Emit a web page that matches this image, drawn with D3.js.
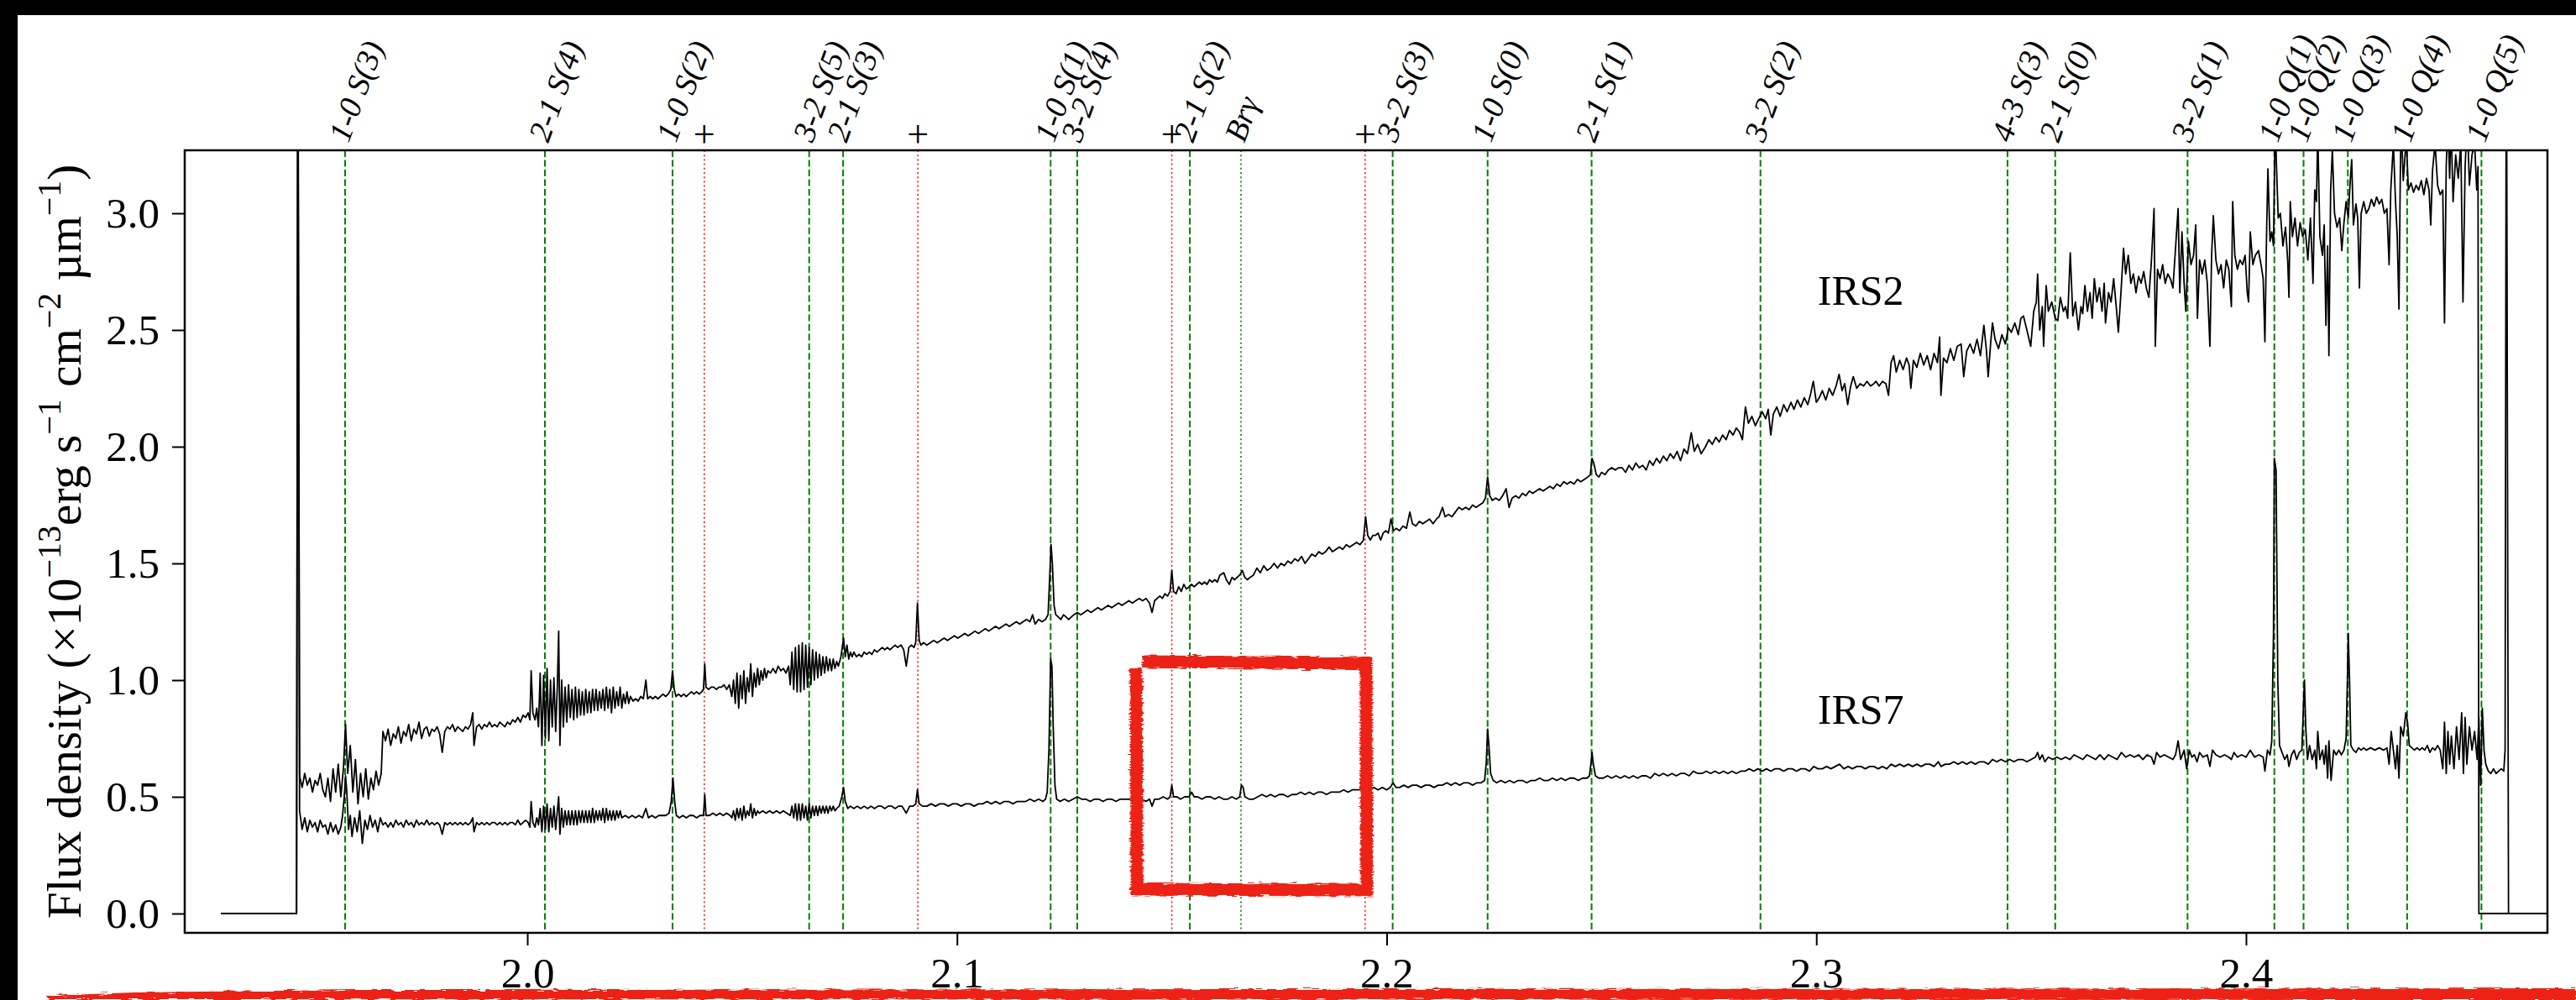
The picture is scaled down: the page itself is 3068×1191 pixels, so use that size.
<!DOCTYPE html>
<html>
<head>
<meta charset="utf-8">
<script src="https://cdn.jsdelivr.net/npm/d3@7"></script>
<style>
  html, body { margin: 0; padding: 0; background: #fff; }
  svg { display: block; }
  text { font-family: "Liberation Serif", "Times New Roman", serif; fill: #000; }
</style>
</head>
<body>
<svg id="chart" width="3068" height="1191"></svg>
<script>
// axis limits and ticks
var xDomain = [1.92027, 2.47016];
var yDomain = [-0.0827, 3.2698];
var xTicks = [2.0, 2.1, 2.2, 2.3, 2.4];
var yTicks = [0, 0.5, 1.0, 1.5, 2.0, 2.5, 3.0];

// H2 lines (green dashed)
var h2Waves = [1.9576, 2.0041, 2.0338, 2.0656, 2.0735, 2.1218, 2.1280, 2.1542, 2.2014, 2.2235,
  2.2477, 2.2870, 2.3445, 2.3556, 2.3864, 2.4066, 2.4134, 2.4237, 2.4375, 2.4548];
var h2Labels = ['1-0 S(3)', '2-1 S(4)', '1-0 S(2)', '3-2 S(5)', '2-1 S(3)', '1-0 S(1)', '3-2 S(4)', '2-1 S(2)',
  '3-2 S(3)', '1-0 S(0)', '2-1 S(1)', '3-2 S(2)', '4-3 S(3)', '2-1 S(0)', '3-2 S(1)', '1-0 Q(1)',
  '1-0 Q(2)', '1-0 Q(3)', '1-0 Q(4)', '1-0 Q(5)'];
// recombination line (green dotted)
var recWaves = [2.1661];
var recLabels = ['Brγ'];
// other features (red dotted, marked with +)
var plusWaves = [2.0412, 2.0909, 2.1500, 2.1950];

// object names
var seriesNames = ['IRS2', 'IRS7'];
var seriesLabelX = [2.3003, 2.3003];
var seriesLabelY = [2.608, 0.813];

// hand drawn highlight: [left wave, right wave, bottom flux, top flux]
var highlightBox = [2.1419, 2.1950, 0.104, 1.072];

// spectra [wavelength (um), flux]
var irs2 = [
  [1.9287,0],[1.9463,0],[1.9466,4.0],
  [1.9470,0.59],[1.9476,0.54],[1.9482,0.60],[1.9488,0.55],[1.9494,0.58],[1.9500,0.52],[1.9506,0.57],[1.9512,0.55],
  [1.9518,0.60],[1.9524,0.53],[1.9530,0.50],[1.9536,0.58],[1.9542,0.48],[1.9548,0.62],[1.9554,0.52],[1.9560,0.64],
  [1.9566,0.50],[1.9572,0.62],[1.9577,0.81],[1.9582,0.60],[1.9588,0.72],[1.9594,0.52],[1.9600,0.66],[1.9606,0.47],
  [1.9612,0.60],[1.9618,0.50],[1.9624,0.62],[1.9630,0.49],[1.9636,0.58],[1.9642,0.53],[1.9648,0.61],[1.9654,0.55],
  [1.9660,0.60],[1.9664,0.78],[1.9670,0.74],[1.9676,0.79],[1.9682,0.72],[1.9688,0.77],[1.9694,0.75],[1.9700,0.80],
  [1.9706,0.73],[1.9712,0.78],[1.9718,0.76],[1.9724,0.81],[1.9730,0.74],[1.9736,0.79],[1.9742,0.77],[1.9748,0.82],
  [1.9754,0.75],[1.9760,0.79],[1.9766,0.80],[1.9772,0.76],[1.9778,0.79],[1.9784,0.78],[1.9790,0.80],[1.9796,0.77],
  [1.9802,0.69],[1.9808,0.78],[1.9814,0.80],[1.9820,0.79],[1.9826,0.81],[1.9832,0.78],[1.9838,0.80],[1.9844,0.79],
  [1.9850,0.78],[1.9856,0.80],[1.9862,0.79],[1.9868,0.81],[1.9873,0.86],[1.9876,0.72],[1.9882,0.80],[1.9888,0.81],
  [1.9894,0.79],[1.9900,0.81],[1.9906,0.80],[1.9912,0.82],[1.9918,0.80],[1.9924,0.81],[1.9930,0.80],[1.9936,0.82],
  [1.9942,0.81],[1.9948,0.80],[1.9954,0.82],[1.9960,0.81],[1.9966,0.83],[1.9972,0.82],[1.9978,0.84],[1.9984,0.82],
  [1.9990,0.85],[1.9996,0.84],[2.0002,0.86],[2.0006,0.83],[2.0009,1.04],[2.0013,0.86],[2.0018,0.83],[2.0022,0.88],
  [2.0026,0.80],[2.0030,1.03],[2.0034,0.72],[2.0038,1.02],[2.0042,0.75],[2.0046,1.05],[2.0050,0.74],[2.0054,1.00],
  [2.0058,0.80],[2.0062,1.01],[2.0066,0.78],[2.0070,0.98],[2.0073,1.21],[2.0076,0.72],[2.0080,1.00],[2.0084,0.80],
  [2.0088,0.97],[2.0092,0.82],[2.0096,0.98],[2.0100,0.84],[2.0104,0.96],[2.0108,0.83],[2.0112,0.97],[2.0116,0.84],
  [2.0120,0.96],[2.0124,0.85],[2.0128,0.95],[2.0132,0.85],[2.0136,0.96],[2.0140,0.86],[2.0144,0.95],[2.0148,0.86],
  [2.0152,0.96],[2.0156,0.87],[2.0160,0.96],[2.0164,0.87],[2.0168,0.95],[2.0172,0.88],[2.0176,0.96],[2.0180,0.87],
  [2.0184,0.97],[2.0188,0.88],[2.0192,0.96],[2.0196,0.86],[2.0200,0.97],[2.0204,0.88],[2.0208,0.95],[2.0212,0.89],
  [2.0216,0.97],[2.0220,0.88],[2.0224,0.94],[2.0228,0.90],[2.0232,0.95],[2.0236,0.90],[2.0240,0.93],[2.0246,0.91],
  [2.0252,0.92],[2.0258,0.91],[2.0264,0.93],[2.0270,0.92],[2.0276,1.00],[2.0280,0.92],[2.0286,0.93],[2.0292,0.92],
  [2.0298,0.93],[2.0304,0.92],[2.0310,0.93],[2.0316,0.94],[2.0322,0.93],[2.0328,0.94],[2.0334,0.96],[2.0338,1.04],
  [2.0342,0.96],[2.0346,0.93],[2.0352,0.94],[2.0358,0.93],[2.0364,0.94],[2.0370,0.93],[2.0376,0.94],[2.0382,0.95],
  [2.0388,0.94],[2.0394,0.95],[2.0400,0.94],[2.0406,0.95],[2.0410,0.96],[2.0413,1.07],[2.0416,0.97],[2.0422,0.96],
  [2.0428,0.97],[2.0434,0.97],[2.0440,0.96],[2.0446,0.97],[2.0452,0.97],[2.0458,0.98],[2.0464,0.96],[2.0470,0.98],
  [2.0476,0.93],[2.0480,1.00],[2.0484,0.90],[2.0488,1.03],[2.0492,0.88],[2.0496,1.02],[2.0500,0.92],[2.0504,1.04],
  [2.0508,0.90],[2.0512,1.01],[2.0516,0.95],[2.0520,1.07],[2.0524,0.93],[2.0528,1.03],[2.0532,0.97],[2.0536,1.05],
  [2.0540,0.98],[2.0544,1.04],[2.0548,1.00],[2.0552,1.05],[2.0556,1.01],[2.0560,1.04],[2.0566,1.03],[2.0572,1.05],
  [2.0578,1.03],[2.0584,1.06],[2.0590,1.04],[2.0596,1.05],[2.0602,1.03],[2.0608,1.06],[2.0612,0.98],[2.0616,1.12],
  [2.0620,0.96],[2.0624,1.14],[2.0628,0.95],[2.0632,1.15],[2.0636,0.95],[2.0640,1.16],[2.0644,0.96],[2.0648,1.15],
  [2.0652,0.97],[2.0656,1.14],[2.0660,0.98],[2.0664,1.13],[2.0668,1.00],[2.0672,1.12],[2.0676,1.01],[2.0680,1.11],
  [2.0684,1.02],[2.0688,1.10],[2.0692,1.03],[2.0696,1.10],[2.0700,1.04],[2.0704,1.09],[2.0708,1.04],[2.0712,1.09],
  [2.0716,1.05],[2.0720,1.08],[2.0724,1.06],[2.0730,1.10],[2.0736,1.18],[2.0740,1.10],[2.0744,1.15],[2.0748,1.09],
  [2.0752,1.12],[2.0756,1.10],[2.0760,1.12],[2.0766,1.10],[2.0772,1.11],[2.0778,1.10],[2.0784,1.12],[2.0790,1.11],
  [2.0796,1.12],[2.0802,1.11],[2.0808,1.13],[2.0814,1.12],[2.0820,1.13],[2.0826,1.14],[2.0832,1.13],[2.0838,1.14],
  [2.0844,1.13],[2.0850,1.14],[2.0856,1.15],[2.0862,1.14],[2.0870,1.15],[2.0876,1.13],[2.0882,1.06],[2.0888,1.14],
  [2.0894,1.15],[2.0900,1.14],[2.0904,1.16],[2.0908,1.33],[2.0912,1.17],[2.0916,1.15],[2.0922,1.16],[2.0930,1.15],
  [2.0938,1.16],[2.0946,1.17],[2.0954,1.16],[2.0962,1.17],[2.0970,1.18],[2.0978,1.17],[2.0986,1.18],[2.0994,1.19],
  [2.1002,1.18],[2.1010,1.19],[2.1018,1.20],[2.1026,1.19],[2.1034,1.20],[2.1042,1.21],[2.1050,1.20],[2.1058,1.21],
  [2.1066,1.22],[2.1074,1.21],[2.1082,1.22],[2.1090,1.23],[2.1098,1.22],[2.1106,1.23],[2.1114,1.24],[2.1122,1.23],
  [2.1130,1.24],[2.1138,1.25],[2.1146,1.24],[2.1154,1.25],[2.1162,1.26],[2.1170,1.25],[2.1176,1.28],[2.1182,1.24],
  [2.1190,1.26],[2.1198,1.25],[2.1206,1.26],[2.1212,1.28],[2.1216,1.45],[2.1219,1.58],[2.1222,1.50],[2.1226,1.32],
  [2.1230,1.28],[2.1236,1.27],[2.1242,1.26],[2.1248,1.28],[2.1254,1.27],[2.1260,1.26],[2.1266,1.27],[2.1272,1.28],
  [2.1280,1.29],[2.1288,1.28],[2.1296,1.29],[2.1304,1.30],[2.1312,1.29],[2.1320,1.30],[2.1328,1.31],[2.1336,1.30],
  [2.1344,1.31],[2.1352,1.32],[2.1360,1.31],[2.1368,1.32],[2.1376,1.33],[2.1384,1.32],[2.1392,1.33],[2.1400,1.34],
  [2.1408,1.33],[2.1416,1.34],[2.1424,1.35],[2.1432,1.34],[2.1440,1.35],[2.1448,1.33],[2.1454,1.29],[2.1460,1.34],
  [2.1466,1.35],[2.1472,1.36],[2.1478,1.35],[2.1484,1.37],[2.1490,1.36],[2.1496,1.38],[2.1500,1.47],[2.1504,1.38],
  [2.1510,1.37],[2.1516,1.40],[2.1522,1.38],[2.1528,1.41],[2.1534,1.39],[2.1540,1.40],[2.1546,1.41],[2.1552,1.40],
  [2.1558,1.41],[2.1564,1.42],[2.1570,1.41],[2.1576,1.42],[2.1582,1.41],[2.1588,1.43],[2.1594,1.42],[2.1600,1.43],
  [2.1606,1.42],[2.1612,1.45],[2.1621,1.46],[2.1627,1.43],[2.1634,1.41],[2.1640,1.44],[2.1646,1.43],[2.1652,1.44],
  [2.1658,1.45],[2.1664,1.47],[2.1670,1.44],[2.1676,1.43],[2.1682,1.44],[2.1690,1.45],[2.1698,1.48],[2.1706,1.46],
  [2.1714,1.49],[2.1722,1.47],[2.1730,1.48],[2.1738,1.50],[2.1746,1.48],[2.1754,1.50],[2.1762,1.49],[2.1770,1.51],
  [2.1778,1.50],[2.1786,1.52],[2.1794,1.51],[2.1802,1.53],[2.1810,1.50],[2.1818,1.52],[2.1826,1.54],[2.1834,1.53],
  [2.1842,1.55],[2.1850,1.54],[2.1858,1.55],[2.1866,1.57],[2.1874,1.55],[2.1882,1.56],[2.1890,1.57],[2.1898,1.56],
  [2.1906,1.58],[2.1914,1.57],[2.1922,1.58],[2.1930,1.59],[2.1938,1.58],[2.1946,1.60],[2.1951,1.70],[2.1956,1.62],
  [2.1962,1.60],[2.1968,1.62],[2.1974,1.62],[2.1980,1.63],[2.1986,1.60],[2.1992,1.63],[2.1998,1.64],[2.2004,1.63],
  [2.2010,1.69],[2.2016,1.64],[2.2022,1.65],[2.2030,1.64],[2.2038,1.66],[2.2046,1.65],[2.2054,1.72],[2.2060,1.67],
  [2.2068,1.66],[2.2076,1.68],[2.2084,1.67],[2.2092,1.68],[2.2100,1.69],[2.2108,1.67],[2.2116,1.69],[2.2122,1.70],
  [2.2130,1.74],[2.2136,1.70],[2.2144,1.71],[2.2152,1.70],[2.2160,1.72],[2.2168,1.74],[2.2176,1.73],[2.2184,1.74],
  [2.2192,1.73],[2.2200,1.75],[2.2208,1.74],[2.2216,1.75],[2.2224,1.76],[2.2230,1.78],[2.2235,1.87],[2.2240,1.79],
  [2.2246,1.77],[2.2254,1.78],[2.2262,1.77],[2.2270,1.79],[2.2278,1.82],[2.2285,1.74],[2.2292,1.78],[2.2300,1.79],
  [2.2308,1.78],[2.2316,1.80],[2.2324,1.79],[2.2332,1.81],[2.2340,1.80],[2.2348,1.81],[2.2356,1.82],[2.2364,1.81],
  [2.2372,1.82],[2.2380,1.83],[2.2388,1.82],[2.2396,1.84],[2.2404,1.83],[2.2412,1.85],[2.2420,1.84],[2.2428,1.85],
  [2.2436,1.84],[2.2444,1.86],[2.2452,1.85],[2.2460,1.86],[2.2468,1.87],[2.2474,1.88],[2.2478,1.95],[2.2482,1.93],
  [2.2488,1.88],[2.2494,1.87],[2.2500,1.89],[2.2508,1.88],[2.2516,1.90],[2.2524,1.91],[2.2532,1.90],[2.2540,1.91],
  [2.2548,1.91],[2.2556,1.89],[2.2564,1.92],[2.2572,1.90],[2.2580,1.93],[2.2588,1.91],[2.2596,1.92],[2.2604,1.90],
  [2.2612,1.94],[2.2620,1.92],[2.2628,1.95],[2.2636,1.93],[2.2644,1.96],[2.2652,1.94],[2.2660,1.97],[2.2668,1.95],
  [2.2676,1.98],[2.2684,1.94],[2.2692,1.99],[2.2700,1.97],[2.2709,2.06],[2.2716,1.98],[2.2724,2.01],[2.2732,1.97],
  [2.2742,2.00],[2.2750,2.03],[2.2758,2.01],[2.2766,2.04],[2.2774,2.02],[2.2782,2.05],[2.2790,2.03],[2.2798,2.07],
  [2.2806,2.05],[2.2814,2.08],[2.2822,2.06],[2.2828,2.03],[2.2835,2.17],[2.2842,2.10],[2.2850,2.13],[2.2858,2.09],
  [2.2866,2.12],[2.2874,2.15],[2.2882,2.12],[2.2888,2.16],[2.2894,2.05],[2.2900,2.14],[2.2908,2.17],[2.2916,2.13],
  [2.2924,2.18],[2.2932,2.15],[2.2941,2.19],[2.2948,2.16],[2.2956,2.20],[2.2964,2.17],[2.2972,2.21],[2.2980,2.18],
  [2.2986,2.22],[2.2993,2.28],[2.3000,2.19],[2.3007,2.21],[2.3014,2.24],[2.3022,2.20],[2.3030,2.25],[2.3038,2.22],
  [2.3046,2.26],[2.3053,2.31],[2.3060,2.24],[2.3066,2.27],[2.3073,2.18],[2.3080,2.26],[2.3086,2.30],[2.3094,2.25],
  [2.3102,2.27],[2.3110,2.26],[2.3118,2.28],[2.3126,2.26],[2.3134,2.27],[2.3139,2.28],[2.3146,2.26],[2.3154,2.28],
  [2.3162,2.27],[2.3168,2.22],[2.3174,2.36],[2.3180,2.39],[2.3186,2.32],[2.3194,2.37],[2.3202,2.33],[2.3210,2.38],
  [2.3216,2.35],[2.3220,2.25],[2.3226,2.37],[2.3234,2.34],[2.3242,2.40],[2.3250,2.35],[2.3258,2.39],[2.3266,2.33],
  [2.3274,2.40],[2.3282,2.36],[2.3287,2.47],[2.3290,2.22],[2.3296,2.38],[2.3304,2.36],[2.3312,2.42],[2.3320,2.37],
  [2.3328,2.43],[2.3337,2.44],[2.3343,2.30],[2.3350,2.41],[2.3358,2.44],[2.3366,2.40],[2.3374,2.46],[2.3382,2.39],
  [2.3390,2.52],[2.3396,2.41],[2.3400,2.30],[2.3406,2.45],[2.3410,2.53],[2.3416,2.46],[2.3424,2.42],[2.3432,2.48],
  [2.3440,2.44],[2.3447,2.51],[2.3454,2.49],[2.3462,2.53],[2.3470,2.48],[2.3476,2.55],[2.3482,2.56],[2.3490,2.50],
  [2.3499,2.43],[2.3506,2.58],[2.3512,2.62],[2.3515,2.74],[2.3520,2.50],[2.3526,2.60],[2.3529,2.43],[2.3535,2.69],
  [2.3540,2.58],[2.3548,2.62],[2.3556,2.55],[2.3562,2.54],[2.3568,2.64],[2.3575,2.58],[2.3580,2.60],
  [2.3585,2.55],[2.3591,2.83],[2.3597,2.56],[2.3603,2.62],[2.3610,2.50],[2.3616,2.60],[2.3620,2.57],[2.3625,2.69],
  [2.3631,2.58],[2.3637,2.66],[2.3642,2.55],[2.3647,2.72],[2.3653,2.62],[2.3659,2.68],[2.3665,2.58],[2.3670,2.70],
  [2.3673,2.53],[2.3680,2.66],[2.3686,2.62],[2.3692,2.72],[2.3698,2.60],[2.3703,2.49],[2.3709,2.66],[2.3715,2.85],
  [2.3720,2.74],[2.3726,2.82],[2.3732,2.70],[2.3738,2.74],[2.3744,2.66],[2.3750,2.73],[2.3756,2.70],[2.3762,2.75],
  [2.3768,2.68],[2.3774,2.64],[2.3780,2.80],[2.3786,3.02],[2.3789,2.43],[2.3794,2.76],[2.3800,2.72],[2.3806,2.78],
  [2.3812,2.70],[2.3818,2.74],[2.3824,2.72],[2.3830,2.68],[2.3836,2.85],[2.3842,3.02],[2.3846,2.66],[2.3851,2.92],
  [2.3856,2.70],[2.3860,2.58],[2.3866,2.88],[2.3872,2.78],[2.3878,2.82],[2.3883,2.95],[2.3887,2.55],[2.3892,2.80],
  [2.3898,2.74],[2.3904,2.80],[2.3910,2.70],[2.3916,2.43],[2.3920,2.82],[2.3924,2.99],[2.3930,2.80],[2.3936,2.74],
  [2.3942,2.78],[2.3948,2.68],[2.3954,2.80],[2.3960,2.76],[2.3966,2.60],[2.3969,3.05],[2.3974,2.82],[2.3980,2.76],
  [2.3986,2.80],[2.3992,2.78],[2.3998,2.82],[2.4003,2.66],[2.4006,2.62],[2.4010,2.92],[2.4016,2.78],[2.4022,2.82],
  [2.4029,2.84],[2.4035,2.78],[2.4040,2.72],[2.4044,2.45],[2.4048,2.92],[2.4051,3.19],[2.4056,2.88],[2.4060,2.92],
  [2.4064,2.86],[2.4068,3.40],[2.4071,3.20],[2.4075,2.98],[2.4080,3.00],[2.4086,2.86],[2.4092,2.94],[2.4097,2.80],
  [2.4100,2.64],[2.4103,3.05],[2.4108,2.90],[2.4114,2.98],[2.4120,2.86],[2.4126,2.96],[2.4132,2.90],[2.4138,2.93],
  [2.4144,2.80],[2.4150,2.98],[2.4156,2.70],[2.4160,3.10],[2.4164,3.05],[2.4167,3.35],[2.4172,2.90],[2.4178,2.82],
  [2.4182,2.95],[2.4186,2.52],[2.4190,2.86],[2.4193,2.39],[2.4197,3.10],[2.4201,3.27],[2.4206,3.00],[2.4212,2.94],
  [2.4218,2.98],[2.4223,2.84],[2.4228,2.96],[2.4233,3.05],[2.4238,2.98],[2.4242,3.12],[2.4246,3.23],[2.4250,2.95],
  [2.4256,3.04],[2.4260,2.98],[2.4264,2.68],[2.4268,3.00],[2.4274,3.05],[2.4280,3.00],[2.4286,3.02],[2.4292,3.06],
  [2.4298,3.03],[2.4304,3.07],[2.4310,3.04],[2.4316,3.06],[2.4322,3.00],[2.4328,3.02],[2.4333,2.78],[2.4337,3.10],
  [2.4343,3.30],[2.4348,3.05],[2.4352,2.90],[2.4356,2.59],[2.4359,3.14],[2.4361,3.40],[2.4366,3.14],[2.4373,3.32],
  [2.4378,3.10],[2.4384,3.13],[2.4390,3.09],[2.4396,3.12],[2.4402,3.10],[2.4408,3.14],[2.4414,3.08],[2.4420,3.15],
  [2.4426,3.10],[2.4430,2.95],[2.4434,3.18],[2.4440,3.30],[2.4446,3.12],[2.4452,3.08],[2.4458,3.10],[2.4462,2.53],
  [2.4466,3.20],[2.4470,3.40],[2.4474,3.15],[2.4477,3.40],[2.4482,3.05],[2.4488,3.25],[2.4494,3.15],[2.4500,3.30],
  [2.4505,2.62],[2.4510,3.20],[2.4515,3.40],[2.4520,3.12],[2.4526,3.25],[2.4532,3.30],[2.4537,3.10],[2.4540,3.20],
  [2.4542,0],[2.4720,0]
];

var irs7 = [
  [1.9287,0],[1.9463,0],[1.9466,4.0],
  [1.9470,0.44],[1.9476,0.36],[1.9482,0.41],[1.9488,0.35],[1.9494,0.40],[1.9500,0.37],[1.9506,0.39],[1.9512,0.35],
  [1.9518,0.40],[1.9524,0.37],[1.9530,0.38],[1.9536,0.34],[1.9542,0.39],[1.9548,0.35],[1.9554,0.38],[1.9560,0.34],
  [1.9566,0.37],[1.9570,0.42],[1.9574,0.50],[1.9577,0.59],[1.9580,0.52],[1.9584,0.36],[1.9588,0.42],[1.9592,0.33],
  [1.9598,0.41],[1.9604,0.35],[1.9610,0.44],[1.9616,0.30],[1.9622,0.40],[1.9628,0.36],[1.9634,0.42],[1.9640,0.37],
  [1.9646,0.40],[1.9652,0.35],[1.9658,0.41],[1.9664,0.38],[1.9670,0.39],[1.9676,0.37],[1.9682,0.39],[1.9688,0.37],
  [1.9694,0.40],[1.9700,0.38],[1.9706,0.39],[1.9712,0.37],[1.9718,0.40],[1.9724,0.38],[1.9730,0.39],[1.9736,0.37],
  [1.9742,0.40],[1.9748,0.38],[1.9754,0.39],[1.9760,0.38],[1.9766,0.40],[1.9772,0.38],[1.9778,0.39],[1.9784,0.38],
  [1.9790,0.39],[1.9796,0.38],[1.9802,0.34],[1.9808,0.39],[1.9814,0.38],[1.9820,0.39],[1.9826,0.38],[1.9832,0.39],
  [1.9838,0.38],[1.9844,0.39],[1.9850,0.38],[1.9856,0.39],[1.9862,0.38],[1.9868,0.39],[1.9873,0.41],[1.9876,0.35],
  [1.9882,0.39],[1.9888,0.38],[1.9894,0.39],[1.9900,0.38],[1.9906,0.39],[1.9912,0.38],[1.9918,0.39],[1.9924,0.39],
  [1.9930,0.38],[1.9936,0.39],[1.9942,0.38],[1.9948,0.39],[1.9954,0.38],[1.9960,0.39],[1.9966,0.39],[1.9972,0.38],
  [1.9978,0.40],[1.9984,0.38],[1.9990,0.39],[1.9996,0.40],[2.0002,0.39],[2.0006,0.37],[2.0009,0.48],[2.0013,0.39],
  [2.0018,0.37],[2.0022,0.41],[2.0026,0.38],[2.0030,0.45],[2.0034,0.35],[2.0038,0.46],[2.0042,0.36],[2.0046,0.47],
  [2.0050,0.35],[2.0054,0.45],[2.0058,0.37],[2.0062,0.46],[2.0066,0.36],[2.0070,0.44],[2.0073,0.50],[2.0076,0.34],
  [2.0080,0.45],[2.0084,0.37],[2.0088,0.44],[2.0092,0.38],[2.0096,0.44],[2.0100,0.38],[2.0104,0.44],[2.0108,0.38],
  [2.0112,0.44],[2.0116,0.38],[2.0120,0.44],[2.0124,0.39],[2.0128,0.44],[2.0132,0.39],[2.0136,0.44],[2.0140,0.39],
  [2.0144,0.44],[2.0148,0.39],[2.0152,0.45],[2.0156,0.39],[2.0160,0.44],[2.0164,0.40],[2.0168,0.44],[2.0172,0.40],
  [2.0176,0.45],[2.0180,0.39],[2.0184,0.45],[2.0188,0.40],[2.0192,0.44],[2.0196,0.40],[2.0200,0.44],[2.0204,0.40],
  [2.0208,0.44],[2.0212,0.41],[2.0216,0.44],[2.0220,0.41],[2.0228,0.42],[2.0236,0.41],[2.0244,0.42],[2.0252,0.41],
  [2.0260,0.42],[2.0268,0.41],[2.0276,0.45],[2.0282,0.41],[2.0290,0.42],[2.0298,0.41],[2.0306,0.42],[2.0314,0.42],
  [2.0322,0.42],[2.0330,0.43],[2.0335,0.48],[2.0339,0.58],[2.0343,0.48],[2.0347,0.42],[2.0354,0.41],[2.0362,0.42],
  [2.0370,0.41],[2.0378,0.42],[2.0386,0.42],[2.0394,0.41],[2.0402,0.42],[2.0410,0.42],[2.0413,0.51],[2.0416,0.42],
  [2.0424,0.42],[2.0432,0.43],[2.0440,0.42],[2.0448,0.43],[2.0456,0.42],[2.0464,0.43],[2.0472,0.42],
  [2.0476,0.41],[2.0480,0.44],[2.0484,0.40],[2.0488,0.45],[2.0492,0.41],[2.0496,0.45],[2.0500,0.40],[2.0504,0.46],
  [2.0508,0.41],[2.0512,0.44],[2.0516,0.42],[2.0520,0.47],[2.0524,0.41],[2.0528,0.45],[2.0532,0.42],[2.0536,0.44],
  [2.0540,0.43],[2.0548,0.44],[2.0556,0.43],[2.0564,0.44],[2.0572,0.43],[2.0580,0.44],[2.0588,0.43],[2.0596,0.44],
  [2.0604,0.43],[2.0612,0.42],[2.0616,0.46],[2.0620,0.41],[2.0624,0.47],[2.0628,0.40],[2.0632,0.47],[2.0636,0.40],
  [2.0640,0.47],[2.0644,0.41],[2.0648,0.46],[2.0652,0.40],[2.0656,0.47],[2.0660,0.41],[2.0664,0.46],[2.0668,0.42],
  [2.0672,0.46],[2.0676,0.42],[2.0680,0.46],[2.0684,0.43],[2.0688,0.46],[2.0692,0.43],[2.0696,0.46],[2.0700,0.43],
  [2.0704,0.46],[2.0708,0.44],[2.0712,0.46],[2.0716,0.44],[2.0720,0.45],[2.0726,0.46],[2.0732,0.50],[2.0736,0.54],
  [2.0740,0.48],[2.0746,0.45],[2.0752,0.46],[2.0760,0.45],[2.0768,0.46],[2.0776,0.45],[2.0784,0.46],[2.0792,0.45],
  [2.0800,0.46],[2.0808,0.45],[2.0816,0.46],[2.0824,0.46],[2.0832,0.45],[2.0840,0.46],[2.0848,0.46],[2.0856,0.45],
  [2.0864,0.46],[2.0872,0.46],[2.0882,0.43],[2.0890,0.46],[2.0898,0.46],[2.0904,0.47],[2.0908,0.53],[2.0912,0.47],
  [2.0920,0.46],[2.0930,0.46],[2.0940,0.47],[2.0950,0.46],[2.0960,0.47],[2.0970,0.47],[2.0980,0.46],[2.0990,0.47],
  [2.1000,0.47],[2.1010,0.46],[2.1020,0.47],[2.1030,0.47],[2.1040,0.46],[2.1050,0.47],[2.1060,0.47],[2.1070,0.48],
  [2.1080,0.47],[2.1090,0.48],[2.1100,0.47],[2.1110,0.48],[2.1120,0.48],[2.1130,0.47],[2.1140,0.48],[2.1150,0.48],
  [2.1160,0.48],[2.1170,0.49],[2.1180,0.48],[2.1190,0.49],[2.1200,0.48],[2.1206,0.49],[2.1210,0.52],[2.1214,0.70],
  [2.1218,1.09],[2.1221,1.06],[2.1224,0.80],[2.1228,0.55],[2.1232,0.49],[2.1240,0.48],[2.1250,0.49],[2.1260,0.48],
  [2.1270,0.49],[2.1280,0.50],[2.1290,0.49],[2.1300,0.49],[2.1310,0.48],[2.1320,0.49],[2.1330,0.49],[2.1340,0.48],
  [2.1350,0.49],[2.1360,0.49],[2.1370,0.48],[2.1380,0.49],[2.1390,0.49],[2.1400,0.49],[2.1410,0.48],[2.1420,0.49],
  [2.1430,0.49],[2.1440,0.48],[2.1448,0.49],[2.1454,0.46],[2.1460,0.49],[2.1470,0.49],[2.1480,0.50],[2.1490,0.49],
  [2.1496,0.50],[2.1500,0.55],[2.1504,0.50],[2.1512,0.50],[2.1520,0.49],[2.1530,0.50],[2.1540,0.50],[2.1546,0.52],
  [2.1552,0.50],[2.1560,0.50],[2.1570,0.49],[2.1580,0.50],[2.1590,0.50],[2.1600,0.49],[2.1610,0.50],[2.1620,0.49],
  [2.1630,0.49],[2.1640,0.50],[2.1650,0.49],[2.1658,0.50],[2.1662,0.55],[2.1666,0.54],[2.1670,0.50],[2.1680,0.49],
  [2.1690,0.49],[2.1700,0.50],[2.1710,0.51],[2.1720,0.50],[2.1730,0.51],[2.1740,0.50],[2.1750,0.51],[2.1760,0.51],
  [2.1770,0.50],[2.1780,0.51],[2.1790,0.51],[2.1800,0.52],[2.1810,0.51],[2.1820,0.52],[2.1830,0.51],[2.1840,0.52],
  [2.1850,0.52],[2.1860,0.51],[2.1870,0.52],[2.1880,0.52],[2.1890,0.52],[2.1900,0.53],[2.1910,0.52],[2.1920,0.53],
  [2.1930,0.53],[2.1940,0.53],[2.1950,0.53],[2.1960,0.53],[2.1970,0.54],[2.1980,0.53],[2.1990,0.54],[2.2000,0.53],
  [2.2008,0.54],[2.2015,0.56],[2.2022,0.54],[2.2030,0.54],[2.2040,0.55],[2.2050,0.54],[2.2060,0.55],[2.2070,0.55],
  [2.2080,0.54],[2.2090,0.55],[2.2100,0.55],[2.2110,0.54],[2.2120,0.55],[2.2130,0.55],[2.2140,0.56],[2.2150,0.55],
  [2.2160,0.56],[2.2170,0.55],[2.2180,0.56],[2.2190,0.56],[2.2200,0.55],[2.2210,0.56],[2.2220,0.56],[2.2228,0.57],
  [2.2232,0.65],[2.2235,0.79],[2.2238,0.72],[2.2242,0.60],[2.2248,0.57],[2.2256,0.56],[2.2266,0.57],[2.2276,0.56],
  [2.2286,0.57],[2.2296,0.56],[2.2306,0.57],[2.2316,0.57],[2.2326,0.56],[2.2336,0.57],[2.2346,0.57],[2.2356,0.58],
  [2.2366,0.57],[2.2376,0.57],[2.2386,0.58],[2.2396,0.57],[2.2406,0.58],[2.2416,0.57],[2.2426,0.58],[2.2436,0.58],
  [2.2446,0.57],[2.2456,0.58],[2.2466,0.58],[2.2472,0.59],[2.2476,0.65],[2.2478,0.69],[2.2481,0.64],[2.2486,0.59],
  [2.2494,0.58],[2.2504,0.58],[2.2514,0.59],[2.2524,0.58],[2.2534,0.59],[2.2544,0.58],
  [2.2554,0.59],[2.2564,0.58],[2.2574,0.59],[2.2584,0.58],[2.2594,0.59],[2.2604,0.59],[2.2614,0.58],[2.2624,0.60],
  [2.2634,0.59],[2.2644,0.60],[2.2654,0.59],[2.2664,0.60],[2.2674,0.59],[2.2684,0.60],[2.2694,0.60],[2.2704,0.59],
  [2.2714,0.61],[2.2724,0.60],[2.2734,0.60],[2.2744,0.61],[2.2754,0.60],[2.2764,0.61],[2.2774,0.60],[2.2784,0.61],
  [2.2794,0.60],[2.2804,0.61],[2.2814,0.60],[2.2824,0.61],[2.2834,0.61],[2.2844,0.62],[2.2854,0.61],[2.2864,0.62],
  [2.2874,0.61],[2.2884,0.62],[2.2894,0.61],[2.2904,0.62],[2.2914,0.62],[2.2924,0.61],[2.2934,0.62],[2.2944,0.62],
  [2.2954,0.61],[2.2964,0.62],[2.2974,0.62],[2.2984,0.61],[2.2994,0.63],[2.3004,0.62],[2.3014,0.62],[2.3024,0.63],
  [2.3034,0.62],[2.3044,0.63],[2.3054,0.64],[2.3064,0.62],[2.3074,0.63],[2.3084,0.62],[2.3094,0.63],[2.3104,0.63],
  [2.3114,0.62],[2.3124,0.63],[2.3134,0.63],[2.3144,0.62],[2.3154,0.63],[2.3164,0.62],[2.3174,0.64],[2.3184,0.63],
  [2.3194,0.64],[2.3204,0.63],[2.3214,0.64],[2.3224,0.63],[2.3234,0.64],[2.3244,0.63],[2.3254,0.64],[2.3264,0.64],
  [2.3274,0.63],[2.3284,0.65],[2.3290,0.63],[2.3300,0.64],[2.3310,0.64],[2.3320,0.65],[2.3330,0.64],[2.3340,0.65],
  [2.3350,0.64],[2.3360,0.65],[2.3370,0.64],[2.3380,0.65],[2.3390,0.65],[2.3400,0.64],[2.3410,0.66],[2.3420,0.65],
  [2.3430,0.66],[2.3440,0.65],[2.3450,0.66],[2.3460,0.65],[2.3470,0.66],[2.3480,0.66],[2.3490,0.65],[2.3500,0.66],
  [2.3510,0.67],[2.3515,0.69],[2.3520,0.66],[2.3526,0.68],[2.3532,0.65],[2.3540,0.67],[2.3550,0.66],[2.3560,0.67],
  [2.3570,0.66],[2.3580,0.67],
  [2.3590,0.66],[2.3600,0.68],[2.3610,0.67],[2.3620,0.66],[2.3630,0.68],[2.3640,0.67],[2.3650,0.66],[2.3660,0.68],
  [2.3670,0.66],[2.3680,0.68],[2.3690,0.67],[2.3700,0.66],[2.3710,0.69],[2.3720,0.67],[2.3730,0.68],[2.3740,0.67],
  [2.3750,0.68],[2.3760,0.66],[2.3770,0.68],[2.3780,0.67],[2.3786,0.64],[2.3792,0.69],[2.3800,0.67],[2.3810,0.68],
  [2.3820,0.67],[2.3830,0.66],[2.3836,0.68],[2.3842,0.74],[2.3848,0.66],[2.3856,0.70],[2.3862,0.62],[2.3868,0.70],
  [2.3874,0.67],[2.3880,0.68],[2.3886,0.65],[2.3892,0.69],[2.3900,0.67],[2.3910,0.68],[2.3916,0.63],[2.3922,0.70],
  [2.3930,0.68],[2.3940,0.67],[2.3950,0.68],[2.3960,0.67],[2.3966,0.66],[2.3972,0.69],[2.3980,0.67],[2.3990,0.68],
  [2.4000,0.67],[2.4010,0.70],[2.4020,0.67],[2.4030,0.68],[2.4040,0.67],[2.4044,0.61],[2.4050,0.70],[2.4056,0.68],
  [2.4060,0.74],[2.4064,1.20],[2.4066,1.95],[2.4070,1.90],[2.4074,1.00],[2.4078,0.72],[2.4084,0.69],[2.4090,0.66],
  [2.4096,0.68],[2.4100,0.63],[2.4106,0.68],[2.4112,0.70],[2.4118,0.66],[2.4124,0.69],[2.4130,0.70],[2.4133,0.85],
  [2.4136,1.00],[2.4139,0.80],[2.4143,0.66],[2.4148,0.72],[2.4154,0.66],[2.4160,0.70],[2.4164,0.62],[2.4167,0.78],
  [2.4172,0.66],[2.4178,0.70],[2.4182,0.64],[2.4186,0.72],[2.4190,0.58],[2.4193,0.74],[2.4198,0.57],[2.4204,0.70],
  [2.4210,0.68],[2.4216,0.70],[2.4222,0.68],[2.4228,0.70],[2.4233,0.75],[2.4236,1.00],[2.4238,1.20],[2.4241,1.00],
  [2.4244,0.72],[2.4250,0.70],[2.4256,0.69],[2.4262,0.71],[2.4268,0.70],[2.4274,0.71],[2.4280,0.70],[2.4290,0.71],
  [2.4300,0.70],[2.4310,0.71],[2.4320,0.70],[2.4328,0.71],[2.4333,0.64],[2.4338,0.78],[2.4343,0.70],[2.4348,0.62],
  [2.4352,0.72],[2.4356,0.58],[2.4360,0.80],[2.4366,0.76],[2.4372,0.86],[2.4376,0.82],[2.4380,0.72],[2.4386,0.71],
  [2.4392,0.70],[2.4398,0.71],[2.4404,0.70],[2.4410,0.71],[2.4416,0.70],[2.4422,0.72],[2.4428,0.69],[2.4434,0.71],
  [2.4440,0.70],[2.4446,0.72],[2.4452,0.70],[2.4458,0.62],[2.4462,0.82],[2.4466,0.60],[2.4470,0.78],[2.4474,0.64],
  [2.4478,0.76],[2.4484,0.62],[2.4490,0.80],[2.4496,0.66],[2.4502,0.86],[2.4506,0.60],[2.4510,0.84],[2.4514,0.64],
  [2.4520,0.80],[2.4526,0.70],[2.4532,0.78],[2.4538,0.66],[2.4542,0.84],[2.4546,0.55],[2.4550,0.88],[2.4554,0.70],
  [2.4558,0.64],[2.4564,0.61],[2.4570,0.60],[2.4576,0.62],[2.4582,0.60],[2.4588,0.61],[2.4594,0.62],[2.4600,0.61],
  [2.4603,0.70],[2.4606,4.0],[2.4611,0],[2.4720,0]
];

(function() {
  var svg = d3.select('#chart');
  var W = 3068, H = 1191;

  var x = d3.scaleLinear().domain(xDomain).range([220, 3034]);
  var y = d3.scaleLinear().domain(yDomain).range([1111, 179]);

  var plotLeft = x.range()[0], plotRight = x.range()[1];
  var plotTop = y.range()[1], plotBottom = y.range()[0];

  var defs = svg.append('defs');
  defs.append('clipPath').attr('id', 'plotClip')
    .append('rect')
    .attr('x', plotLeft).attr('y', plotTop)
    .attr('width', plotRight - plotLeft).attr('height', plotBottom - plotTop);

  // rough edge for the hand drawn red marks
  var rough = defs.append('filter').attr('id', 'rough')
    .attr('filterUnits', 'userSpaceOnUse')
    .attr('x', 0).attr('y', 0).attr('width', W).attr('height', H);
  rough.append('feTurbulence')
    .attr('type', 'fractalNoise')
    .attr('baseFrequency', '0.06 0.6')
    .attr('numOctaves', 2)
    .attr('seed', 4)
    .attr('result', 'noise');
  rough.append('feDisplacementMap')
    .attr('in', 'SourceGraphic')
    .attr('in2', 'noise')
    .attr('scale', 7);

  svg.append('rect').attr('width', W).attr('height', H).attr('fill', '#fff');

  //Reference lines
  var refs = svg.append('g').attr('class', 'ref-lines');

  function vline(sel, cls, data) {
    return sel.selectAll('line.' + cls)
      .data(data)
      .enter().append('line')
      .attr('class', cls)
      .attr('x1', function(d) { return x(d); })
      .attr('x2', function(d) { return x(d); })
      .attr('y1', plotTop).attr('y2', plotBottom);
  }

  vline(refs, 'h2', h2Waves)
    .attr('stroke', '#008000')
    .attr('stroke-width', 2)
    .attr('stroke-dasharray', '8,3.5');

  vline(refs, 'rec', recWaves)
    .attr('stroke', '#008000')
    .attr('stroke-width', 1.6)
    .attr('stroke-dasharray', '2,3.2');

  vline(refs, 'plus', plusWaves)
    .attr('stroke', '#ff0000')
    .attr('stroke-width', 1.5)
    .attr('stroke-dasharray', '2,3.2');

  //Spectra
  var line = d3.line()
    .x(function(d) { return x(d[0]); })
    .y(function(d) { return y(d[1]); });

  var plot = svg.append('g').attr('clip-path', 'url(#plotClip)');
  [irs2, irs7].forEach(function(series) {
    plot.append('path')
      .datum(series)
      .attr('d', line)
      .attr('fill', 'none')
      .attr('stroke', '#000')
      .attr('stroke-width', 1.8)
      .attr('stroke-linejoin', 'round');
  });

  //Frame
  svg.append('rect')
    .attr('x', plotLeft).attr('y', plotTop)
    .attr('width', plotRight - plotLeft).attr('height', plotBottom - plotTop)
    .attr('fill', 'none')
    .attr('stroke', '#000')
    .attr('stroke-width', 2.5);

  //Axes
  var xAxis = svg.append('g')
    .attr('transform', 'translate(0,' + plotBottom + ')')
    .call(d3.axisBottom(x).tickValues(xTicks).tickFormat(d3.format('.1f')).tickSize(15).tickPadding(14));
  var yAxis = svg.append('g')
    .attr('transform', 'translate(' + plotLeft + ',0)')
    .call(d3.axisLeft(y).tickValues(yTicks).tickFormat(d3.format('.1f')).tickSize(15).tickPadding(15));

  [xAxis, yAxis].forEach(function(ax) {
    ax.select('.domain').remove();
    ax.selectAll('.tick line').attr('stroke', '#000').attr('stroke-width', 2);
    ax.selectAll('.tick text')
      .attr('font-family', '"Liberation Serif", "Times New Roman", serif')
      .attr('font-size', 51)
      .attr('fill', '#000');
  });

  //Y label with superscripts
  var yLabel = svg.append('text')
    .attr('transform', 'translate(96,' + ((plotTop + plotBottom) / 2) + ') rotate(-90)')
    .attr('text-anchor', 'middle')
    .attr('font-size', 57);
  var labelParts = [
    ['Flux density (×10', 0], ['\u221213', 1], ['erg s', 0], ['\u22121', 1],
    [' cm', 0], ['\u22122', 1], [' µm', 0], ['\u22121', 1], [')', 0]
  ];
  var raised = false;
  labelParts.forEach(function(p) {
    var t = yLabel.append('tspan').text(p[0]);
    if (p[1]) {
      t.attr('font-size', 40);
      if (!raised) { t.attr('dy', -24); raised = true; }
    } else if (raised) {
      t.attr('dy', 24);
      raised = false;
    }
  });

  //Line labels along the top
  var labels = svg.append('g').attr('class', 'line-labels');
  function rotLabel(cls, waves, texts) {
    labels.selectAll('text.' + cls)
      .data(waves)
      .enter().append('text')
      .attr('class', cls)
      .attr('transform', function(d) { return 'translate(' + (x(d) + 4) + ',' + (plotTop - 8) + ') rotate(-70)'; })
      .attr('font-style', 'italic')
      .attr('font-size', 38)
      .text(function(d, i) { return texts[i]; });
  }
  rotLabel('h2', h2Waves, h2Labels);
  rotLabel('rec', recWaves, recLabels);

  labels.selectAll('text.plus')
    .data(plusWaves)
    .enter().append('text')
    .attr('class', 'plus')
    .attr('x', function(d) { return x(d); })
    .attr('y', plotTop - 4)
    .attr('text-anchor', 'middle')
    .attr('font-size', 46)
    .text('+');

  //Object names
  svg.selectAll('text.obj')
    .data(seriesNames)
    .enter().append('text')
    .attr('class', 'obj')
    .attr('x', function(d, i) { return x(seriesLabelX[i]); })
    .attr('y', function(d, i) { return y(seriesLabelY[i]); })
    .attr('font-size', 50)
    .text(function(d) { return d; });

  //Hand drawn highlight box
  var bx0 = x(highlightBox[0]), bx1 = x(highlightBox[1]);
  var by0 = y(highlightBox[3]), by1 = y(highlightBox[2]);
  svg.append('path')
    .attr('d', 'M' + (bx0 - 1) + ',' + (by0 + 6) +
      'L' + bx0 + ',' + by1 +
      'L' + (bx1 + 2) + ',' + (by1 + 1) +
      'L' + (bx1 + 1) + ',' + by0 +
      'L' + (bx0 + 6) + ',' + (by0 - 2))
    .attr('fill', 'none')
    .attr('stroke', '#ec2314')
    .attr('stroke-width', 15)
    .attr('stroke-linejoin', 'miter')
    .attr('filter', 'url(#rough)');

  //Brush stroke along the bottom edge
  svg.append('path')
    .attr('d', 'M56,1186 L160,1182 L420,1179 L1500,1178 L3068,1177 L3068,1191 L56,1190 Z')
    .attr('fill', '#ec2314')
    .attr('filter', 'url(#rough)');

  //Dark page borders
  svg.append('rect').attr('x', 0).attr('y', 0).attr('width', W).attr('height', 18).attr('fill', '#000');
  svg.append('rect').attr('x', 0).attr('y', 0).attr('width', 21).attr('height', H).attr('fill', '#000');
})();
</script>
</body>
</html>
